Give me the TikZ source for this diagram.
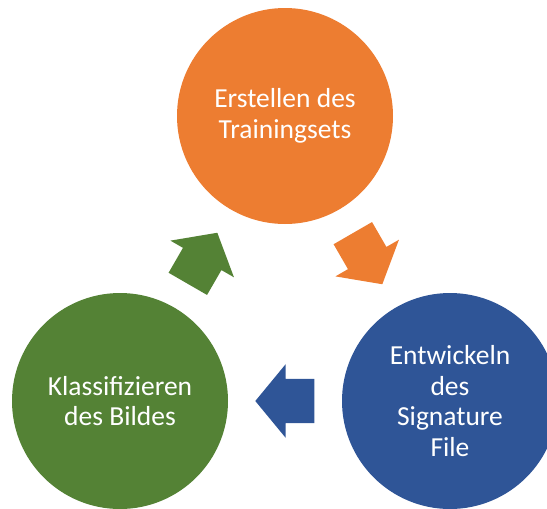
\documentclass[tikz,border=0pt]{standalone}
\usepackage{fontspec}
\setmainfont{Carlito}
\usetikzlibrary{shapes.arrows,calc}
\definecolor{corange}{HTML}{ED7D31}
\definecolor{cblue}{HTML}{2F5597}
\definecolor{cgreen}{HTML}{548235}
\begin{document}
\begin{tikzpicture}[x=1pt,y=-1pt,
  stage/.style={circle, minimum size=216pt, inner sep=0pt, text=white, align=center,
    font=\fontsize{27.5}{30.5}\selectfont},
  flow/.style={single arrow, anchor=tail, minimum height=59pt, text height=22pt, text depth=22pt,
    text width=0pt, single arrow head extend=14.5pt, single arrow tip angle=101,
    single arrow head indent=0pt, inner sep=0pt}]
\clip (0,0) rectangle (547,509);
\node[stage, fill=corange] (o) at (285,116) {Erstellen des\\Trainingsets};
\node[stage, fill=cblue] (b) at (450,401) {Entwickeln\\des\\Signature\\File};
\node[stage, fill=cgreen] (g) at (120,401) {Klassifizieren\\des Bildes};
\coordinate (mob) at ($(o)!0.5!(b)$);
\coordinate (mbg) at ($(b)!0.5!(g)$);
\coordinate (mgo) at ($(g)!0.5!(o)$);
\coordinate (tob) at ($(mob)!29.5pt!(o)$);
\coordinate (tbg) at ($(mbg)!29.5pt!(b)$);
\coordinate (tgo) at ($(mgo)!29.5pt!(g)$);
\node[flow, fill=corange, rotate=-60] (ob) at (tob) {};
\node[flow, fill=cblue, rotate=180] (bg) at (tbg) {};
\node[flow, fill=cgreen, rotate=60] (go) at (tgo) {};
\end{tikzpicture}
\end{document}
